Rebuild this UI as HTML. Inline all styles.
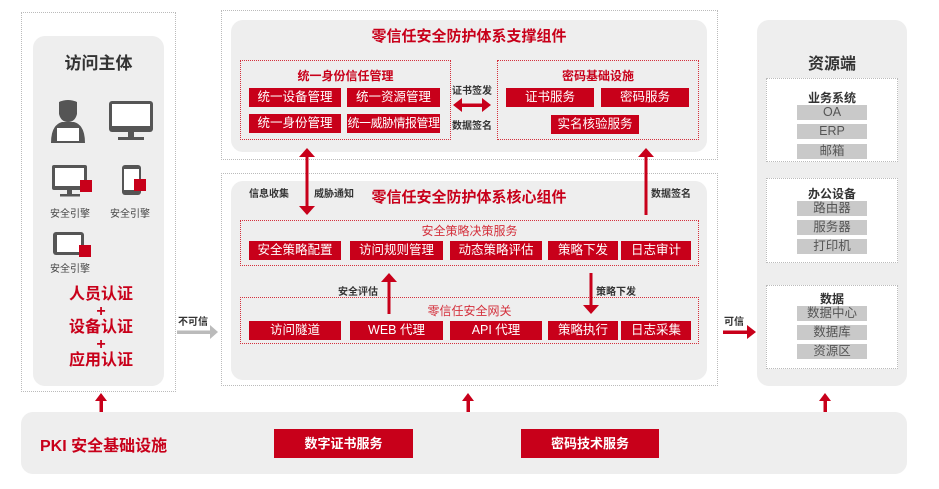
<!DOCTYPE html>
<html><head><meta charset="utf-8"><style>
*{margin:0;padding:0;box-sizing:border-box}
body{width:939px;height:489px;background:#fff;position:relative;overflow:hidden;font-family:"Liberation Sans","Noto Sans CJK SC",sans-serif}
.a{position:absolute}
.dot{position:absolute;border:1.5px dotted #bbb}
.rd{position:absolute;border:1.5px dotted #d4303c}
.g{position:absolute;background:#eeeeee;border-radius:12px}
.rb{position:absolute;background:#c8001a;color:#fff;font-size:12.5px;text-align:center;line-height:19px;white-space:nowrap;overflow:hidden}
.gb{position:absolute;background:#c9c9c9;color:#555;font-size:12.5px;text-align:center;line-height:15px;left:797px;width:70px;height:15px}
.t{position:absolute;white-space:nowrap;text-align:center}
.lb{font-size:10px;font-weight:bold;color:#333}
.wb{position:absolute;background:#fff;border:1.5px dotted #bbb;left:766px;width:132px}
</style></head><body>
<div class="dot" style="left:21px;top:12px;width:155px;height:380px"></div>
<div class="g" style="left:33px;top:36px;width:131px;height:350px"></div>
<div class="t" style="left:33px;width:131px;top:49px;font-size:17px;font-weight:bold;color:#333">访问主体</div>
<div class="t" style="left:45px;width:50px;top:205px;font-size:10px;color:#444">安全引擎</div>
<div class="t" style="left:105px;width:50px;top:205px;font-size:10px;color:#444">安全引擎</div>
<div class="t" style="left:45px;width:50px;top:260px;font-size:10px;color:#444">安全引擎</div>
<div class="t" style="left:33px;width:136px;top:287px;font-size:16px;font-weight:bold;color:#c8001a;line-height:16.5px">人员认证<br>+<br>设备认证<br>+<br>应用认证</div>
<div class="t lb" style="left:178px;top:313px">不可信</div>
<div class="t lb" style="left:724px;top:313px">可信</div>

<!-- support -->
<div class="dot" style="left:221px;top:10px;width:497px;height:150px"></div>
<div class="g" style="left:231px;top:20px;width:476px;height:132px"></div>
<div class="t" style="left:231px;width:476px;top:25px;font-size:15px;font-weight:bold;color:#c8001a">零信任安全防护体系支撑组件</div>
<div class="rd" style="left:240px;top:60px;width:211px;height:80px"></div>
<div class="t" style="left:240px;width:211px;top:67px;font-size:12px;font-weight:bold;color:#c8001a">统一身份信任管理</div>
<div class="rb" style="left:249px;top:88px;width:92px">统一设备管理</div>
<div class="rb" style="left:347px;top:88px;width:93px">统一资源管理</div>
<div class="rb" style="left:249px;top:114px;width:92px">统一身份管理</div>
<div class="rb" style="left:347px;top:114px;width:93px;font-size:12px;letter-spacing:-.5px">统一威胁情报管理</div>
<div class="t lb" style="left:452px;top:82px">证书签发</div>
<div class="t lb" style="left:452px;top:117px">数据签名</div>
<div class="rd" style="left:497px;top:60px;width:202px;height:80px"></div>
<div class="t" style="left:497px;width:202px;top:67px;font-size:12px;font-weight:bold;color:#c8001a">密码基础设施</div>
<div class="rb" style="left:506px;top:88px;width:88px">证书服务</div>
<div class="rb" style="left:601px;top:88px;width:88px">密码服务</div>
<div class="rb" style="left:551px;top:115px;width:88px">实名核验服务</div>

<!-- core -->
<div class="dot" style="left:221px;top:173px;width:497px;height:213px"></div>
<div class="g" style="left:231px;top:181px;width:476px;height:199px"></div>
<div class="t" style="left:231px;width:476px;top:186px;font-size:15px;font-weight:bold;color:#c8001a">零信任安全防护体系核心组件</div>
<div class="t lb" style="left:249px;top:185px">信息收集</div>
<div class="t lb" style="left:314px;top:185px">威胁通知</div>
<div class="t lb" style="left:651px;top:185px">数据签名</div>
<div class="rd" style="left:240px;top:220px;width:459px;height:46px"></div>
<div class="t" style="left:240px;width:459px;top:222px;font-size:12px;color:#d4303c">安全策略决策服务</div>
<div class="rb" style="left:249px;top:241px;width:92px">安全策略配置</div>
<div class="rb" style="left:350px;top:241px;width:93px">访问规则管理</div>
<div class="rb" style="left:450px;top:241px;width:92px">动态策略评估</div>
<div class="rb" style="left:548px;top:241px;width:70px">策略下发</div>
<div class="rb" style="left:621px;top:241px;width:70px">日志审计</div>
<div class="t lb" style="left:338px;top:283px">安全评估</div>
<div class="t lb" style="left:596px;top:283px">策略下发</div>
<div class="rd" style="left:240px;top:297px;width:459px;height:47px"></div>
<div class="t" style="left:240px;width:459px;top:302px;font-size:12px;color:#d4303c">零信任安全网关</div>
<div class="rb" style="left:249px;top:321px;width:92px">访问隧道</div>
<div class="rb" style="left:350px;top:321px;width:93px">WEB 代理</div>
<div class="rb" style="left:450px;top:321px;width:92px">API 代理</div>
<div class="rb" style="left:548px;top:321px;width:70px">策略执行</div>
<div class="rb" style="left:621px;top:321px;width:70px">日志采集</div>

<!-- resources -->
<div class="g" style="left:757px;top:20px;width:150px;height:366px"></div>
<div class="t" style="left:757px;width:150px;top:50px;font-size:16px;font-weight:bold;color:#333">资源端</div>
<div class="wb" style="top:78px;height:84px"></div>
<div class="t" style="left:766px;width:132px;top:89px;font-size:12px;font-weight:bold;color:#333">业务系统</div>
<div class="gb" style="top:105px">OA</div><div class="gb" style="top:124px">ERP</div><div class="gb" style="top:144px">邮箱</div>
<div class="wb" style="top:178px;height:85px"></div>
<div class="t" style="left:766px;width:132px;top:185px;font-size:12px;font-weight:bold;color:#333">办公设备</div>
<div class="gb" style="top:201px">路由器</div><div class="gb" style="top:220px">服务器</div><div class="gb" style="top:239px">打印机</div>
<div class="wb" style="top:285px;height:84px"></div>
<div class="t" style="left:766px;width:132px;top:290px;font-size:12px;font-weight:bold;color:#333">数据</div>
<div class="gb" style="top:306px">数据中心</div><div class="gb" style="top:325px">数据库</div><div class="gb" style="top:344px">资源区</div>

<!-- bottom -->
<div class="g" style="left:21px;top:412px;width:886px;height:62px"></div>
<div class="t" style="left:40px;top:432px;font-size:16px;font-weight:bold;color:#c8001a">PKI 安全基础设施</div>
<div class="rb" style="left:274px;top:429px;width:139px;height:29px;line-height:29px;font-size:13px;font-weight:bold">数字证书服务</div>
<div class="rb" style="left:521px;top:429px;width:138px;height:29px;line-height:29px;font-size:13px;font-weight:bold">密码技术服务</div>

<svg class="a" style="left:0;top:0;z-index:5" width="939" height="489">
<!-- person -->
<g fill="#555"><path d="M59 102q9-4 18 0v12q-2 8-9 8t-9-8z"/><path d="M51 143q0-18 11-21h12q11 3 11 21z"/></g>
<rect x="57" y="128" width="22" height="14" fill="#fff"/>
<rect x="55" y="141" width="26" height="2" fill="#555"/>
<!-- monitor -->
<rect x="109" y="101" width="44" height="31" rx="3" fill="#555"/><rect x="112" y="104" width="38" height="22" fill="#fff"/>
<rect x="128" y="132" width="6" height="6" fill="#555"/><rect x="118" y="137" width="26" height="3" fill="#555"/>
<!-- small monitor -->
<rect x="52" y="165" width="35" height="25" rx="2" fill="#555"/><rect x="55" y="168" width="29" height="18" fill="#fff"/>
<rect x="67" y="190" width="5" height="4" fill="#555"/><rect x="60" y="194" width="20" height="2.5" fill="#555"/>
<rect x="80" y="180" width="12" height="12" fill="#c8001a"/>
<!-- phone -->
<rect x="122" y="165" width="19" height="30" rx="3" fill="#555"/><rect x="124" y="169" width="15" height="21" fill="#fff"/>
<rect x="134" y="179" width="12" height="12" fill="#c8001a"/>
<!-- tablet -->
<rect x="53" y="232" width="31" height="23" rx="3" fill="#555"/><rect x="57" y="235" width="24" height="17" fill="#fff"/>
<rect x="79" y="245" width="12" height="12" fill="#c8001a"/>
<!-- arrows -->
<g fill="#c8001a" stroke="none">
<rect x="305.5" y="156" width="3" height="50"/><path d="M299 157l8-9 8 9z"/><path d="M299 206l8 9 8-9z"/>
<rect x="644.5" y="156" width="3" height="59"/><path d="M638 157l8-9 8 9z"/>
<rect x="387.5" y="281" width="3" height="33"/><path d="M381 282l8-9 8 9z"/>
<rect x="589.5" y="273" width="3" height="32"/><path d="M583 305l8 9 8-9z"/>
<rect x="462" y="103.5" width="20" height="3.5"/><path d="M462 98l-9 7 9 7z"/><path d="M482 98l9 7-9 7z"/>
<rect x="723" y="330.5" width="25" height="3.5"/><path d="M747 325l9 7-9 7z"/>
<rect x="99.5" y="400" width="3.5" height="12"/><path d="M95 401l6-8 6 8z"/>
<rect x="466.5" y="400" width="3.5" height="12"/><path d="M462 401l6-8 6 8z"/>
<rect x="823.5" y="400" width="3.5" height="12"/><path d="M819 401l6-8 6 8z"/>
</g>
<rect x="177" y="330.5" width="34" height="3.5" fill="#bbb"/><path d="M210 325l8 7-8 7z" fill="#bbb"/>
</svg>
</body></html>
